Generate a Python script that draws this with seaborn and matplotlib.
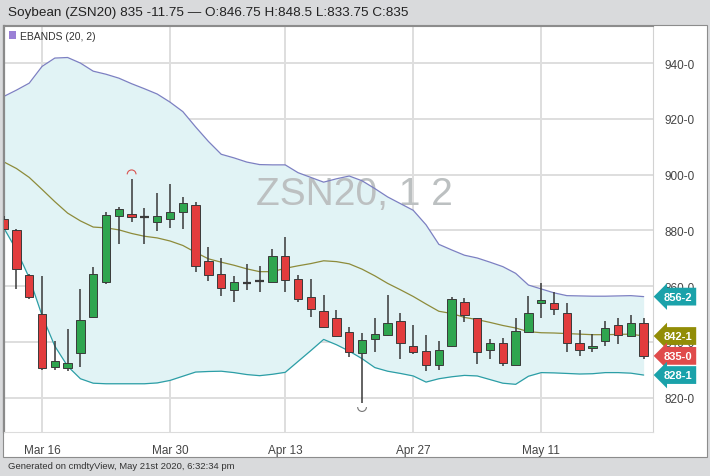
import numpy as np
import pandas as pd
import seaborn as sns
import matplotlib.pyplot as plt
from matplotlib.patches import Rectangle, Patch
from matplotlib.path import Path

# trading days shown on the chart (Mar 11 .. May 21 2020)
dates = ["2020-03-11", "2020-03-12", "2020-03-13", "2020-03-16", "2020-03-17", "2020-03-18",
         "2020-03-19", "2020-03-20", "2020-03-23", "2020-03-24", "2020-03-25", "2020-03-26",
         "2020-03-27", "2020-03-30", "2020-03-31", "2020-04-01", "2020-04-02", "2020-04-03",
         "2020-04-06", "2020-04-07", "2020-04-08", "2020-04-09", "2020-04-13", "2020-04-14",
         "2020-04-15", "2020-04-16", "2020-04-17", "2020-04-20", "2020-04-21", "2020-04-22",
         "2020-04-23", "2020-04-24", "2020-04-27", "2020-04-28", "2020-04-29", "2020-04-30",
         "2020-05-01", "2020-05-04", "2020-05-05", "2020-05-06", "2020-05-07", "2020-05-08",
         "2020-05-11", "2020-05-12", "2020-05-13", "2020-05-14", "2020-05-15", "2020-05-18",
         "2020-05-19", "2020-05-20", "2020-05-21"]

opens = [884, 880, 864, 850, 831, 830.5, 836, 849, 861.5, 885.25, 886, 884.75, 883, 884, 886.5,
         889, 869, 864.5, 858.5, 861.25, 862, 861.5, 870.75, 862.5, 856.25, 851, 848.75, 843.5,
         836, 841, 842.5, 847.5, 838.5, 836.75, 831.75, 838.5, 854.5, 848.5, 837.25, 839.5,
         831.75, 843.5, 854, 854, 850.5, 839.5, 837.75, 840.5, 846, 842, 846.75]
highs = [885, 880.5, 864.5, 863.5, 840.5, 844.5, 859, 867, 886.75, 888.5, 898.5, 888, 893.25,
         896.75, 892, 890.25, 874, 870, 863.75, 868, 867.25, 873.5, 877.5, 864, 862.5, 856.75,
         851.5, 845.5, 843.25, 848.75, 856.75, 850.5, 846.25, 842.5, 840.5, 856.25, 855.75,
         848.5, 841, 841.5, 848.5, 856.5, 861, 857.75, 854, 844.25, 843, 847.5, 848.5, 849.75,
         848.5]
lows = [880, 859, 855.5, 830, 830, 829.5, 831, 848.75, 860.75, 875, 883, 875, 879.75, 881,
        880.5, 865.25, 862, 856.5, 854.5, 858.5, 858, 861.5, 858, 854.5, 849, 845, 842, 834.5,
        818.25, 836.5, 842.25, 834, 835.5, 829.5, 830, 838.25, 847, 832.25, 834, 831.5, 831.75,
        843.25, 848.75, 849.75, 836.5, 835, 836.5, 838.5, 839.25, 842, 833.75]
closes = [880.5, 866, 856, 830.5, 833, 832.5, 848, 864.5, 885.5, 887.5, 884.75, 884.75, 885.25,
          886.5, 889.75, 867.25, 864, 859.5, 861.5, 861.25, 862, 870.75, 862.25, 855.5, 851.75,
          845.5, 842.25, 836.25, 840.75, 842.75, 846.75, 839.5, 836.5, 831.75, 837.25, 855.25,
          849.5, 836.5, 839.5, 832.5, 844, 850.25, 855, 851.75, 839.75, 837, 838.5, 845, 842.5,
          846.75, 835]

# EBANDS (20, 2)
upper = [928, 930.3, 932.8, 938.8, 941.8, 942, 940, 937.1, 936, 934.6, 932.6, 930.8, 928.9, 926,
         922.6, 917.1, 911.9, 907.3, 906, 904.5, 903.6, 903.5, 903.5, 900.7, 899, 897.3, 898.5,
         899.5, 897.8, 895, 892, 889.6, 887.2, 882, 875, 873, 871.1, 870.1, 868.6, 867, 864.6,
         860.4, 859, 857.6, 856.6, 856.5, 856.4, 856.4, 856.5, 856.6, 856.25]
middle = [904.6, 902.2, 899, 894.7, 890.3, 886.2, 883.4, 881.2, 880.9, 880.2, 878.9, 877.9, 877.3,
          876.2, 874.6, 872.1, 869.8, 868.6, 867.5, 866.2, 865.2, 865.2, 866.4, 867.3, 868.1,
          869.1, 868.8, 868, 866.1, 863.7, 861, 858.7, 856.3, 853.6, 851, 850.2, 848.8, 848, 847,
          845.9, 845, 843.7, 843.3, 843.2, 843, 842.8, 842.6, 842.6, 842.7, 842.8, 842.125]
lower = [881, 873, 863, 849.5, 838.5, 831.3, 826.8, 825.2, 825, 825, 825, 825, 825.3, 826.2,
         827.7, 829.2, 829.4, 829.5, 829, 828.3, 827.9, 828.4, 829.1, 833, 836.9, 840.9, 839,
         836.7, 834, 830.8, 829.5, 828.7, 827.8, 825.6, 826.8, 827.5, 828, 827.8, 826.5, 825.2,
         824.8, 827.7, 829, 828.9, 828.7, 828.5, 828.6, 829, 829, 828.8, 828.125]

tick_dates = ["2020-03-16", "2020-03-30", "2020-04-13", "2020-04-27", "2020-05-11"]
y_ticks = [820, 840, 860, 880, 900, 920, 940]

title = "Soybean (ZSN20) 835 -11.75 \u2014 O:846.75 H:848.5 L:833.75 C:835"
footer = "Generated on cmdtyView, May 21st 2020, 6:32:34 pm"

df = pd.DataFrame({"date": pd.to_datetime(dates), "open": opens, "high": highs,
                   "low": lows, "close": closes, "upper": upper, "middle": middle,
                   "lower": lower})
df["i"] = np.arange(len(df))

GREEN = "#2fa54f"
RED = "#e23c3d"
DOJI = "#333333"


def eighths(v):
    whole = int(np.floor(v))
    return f"{whole}-{int(round((v - whole) * 8))}"


sns.set_style("white")
plt.rcParams["font.family"] = ["Liberation Sans", "DejaVu Sans"]
narrow = ["Liberation Sans Narrow", "Liberation Sans", "DejaVu Sans"]

W, H = 710, 477
fig = plt.figure(figsize=(W / 100, H / 100), dpi=100)
fig.patch.set_facecolor("#d9dadc")
fig.add_artist(Rectangle((3 / W, 1 - 458 / H), 704 / W, 432 / H, transform=fig.transFigure,
                         facecolor="white", edgecolor="#8c8c8c", lw=0.8, zorder=-5))
ax = fig.add_axes([4 / W, 1 - 433 / H, 649 / W, 406 / H])
ax.set_facecolor("white")

# band
ax.fill_between(df["i"], df["lower"], df["upper"], color="#e1f3f5", lw=0, zorder=1)
sns.lineplot(data=df, x="i", y="upper", color="#7c80c2", lw=0.9, ax=ax, zorder=2)
sns.lineplot(data=df, x="i", y="middle", color="#8d8b3a", lw=0.9, ax=ax, zorder=2)
sns.lineplot(data=df, x="i", y="lower", color="#2c9ea6", lw=0.9, ax=ax, zorder=2)

ax.text(0.54, 0.585, "ZSN20, 1 2", transform=ax.transAxes, fontsize=28, color="#bcc0c1",
        ha="center", va="center", zorder=1.5)

# candles
colors = [GREEN if c > o else RED if c < o else DOJI for o, c in zip(df["open"], df["close"])]
ax.vlines(df["i"], df["low"], df["high"], color="#383838", lw=1.1, zorder=3)
body_lo = np.minimum(df["open"], df["close"])
body_h = np.abs(df["close"] - df["open"])
ax.bar(df["i"], body_h, bottom=body_lo, width=0.65, color=colors,
       edgecolor="#3a3a3a", linewidth=[1.6 if h == 0 else 0.7 for h in body_h], zorder=4)

# high / low markers
hi = df.loc[df["high"].idxmax()]
lo = df.loc[df["low"].idxmin()]
ax.scatter([hi["i"]], [hi["high"] + 1.6], marker=Path.arc(0, 180), s=40,
           facecolors="none", edgecolors="#d9534f", lw=0.8, zorder=5)
ax.scatter([lo["i"]], [lo["low"] - 1.6], marker=Path.arc(180, 360), s=40,
           facecolors="none", edgecolors="#777777", lw=0.8, zorder=5)

ax.set_xlim(0.03, 50.73)
ax.set_ylim(807.7, 953.3)

tick_idx = df.loc[df["date"].isin(pd.to_datetime(tick_dates)), "i"]
ax.set_xticks(tick_idx)
ax.set_xticklabels([d.strftime("%b %d").replace(" 0", " ") for d in pd.to_datetime(tick_dates)],
                   family=narrow, fontsize=8.5, color="#444444")
ax.set_yticks(y_ticks)
ax.set_yticklabels([f"{v}-0" for v in y_ticks], family=narrow, fontsize=8.5, color="#444444")
ax.yaxis.tick_right()
ax.tick_params(axis="y", length=0, pad=8)
ax.tick_params(axis="x", length=3, width=1, color="#cccccc", pad=6)
ax.grid(True, color="#dedede", lw=1.4, zorder=0)
ax.set_axisbelow(True)
ax.set_xlabel("")
ax.set_ylabel("")

ax.spines["left"].set_color("#8a8a8a")
ax.spines["left"].set_linewidth(1.6)
ax.spines["top"].set_color("#8c8c8c")
ax.spines["top"].set_linewidth(0.8)
ax.spines["right"].set_color("#d2d2d2")
ax.spines["bottom"].set_color("#dcdcdc")

# last value tags (drawn over the price scale, as in the app)
tags = [(df["upper"].iloc[-1], "#1aa2aa"), (df["middle"].iloc[-1], "#928d07"),
        (df["close"].iloc[-1], "#e04b4b"), (df["lower"].iloc[-1], "#1aa2aa")]
for v, c in tags:
    ax.annotate(eighths(v), xy=(1, v), xycoords=ax.get_yaxis_transform(), xytext=(18, 0),
                textcoords="offset points", ha="center", va="center", fontsize=8,
                fontweight="bold", color="white", annotation_clip=False, zorder=10,
                bbox=dict(boxstyle="larrow,pad=0.35", fc=c, ec="none"))

leg = ax.legend(handles=[Patch(facecolor="#9a80d6", edgecolor="none")], labels=["EBANDS (20, 2)"],
                loc="upper left", frameon=False, fontsize=7.5, handlelength=0.7,
                handleheight=0.9, handletextpad=0.4, borderaxespad=0.25, borderpad=0.2)
for t in leg.get_texts():
    t.set_color("#333333")

fig.text(8 / W, 1 - 13 / H, title, fontsize=9.7, color="#222222", ha="left", va="center")
fig.text(8 / W, 1 - 467 / H, footer, fontsize=6.8, color="#333333", ha="left", va="center")

fig.savefig("out.png", dpi=100)
